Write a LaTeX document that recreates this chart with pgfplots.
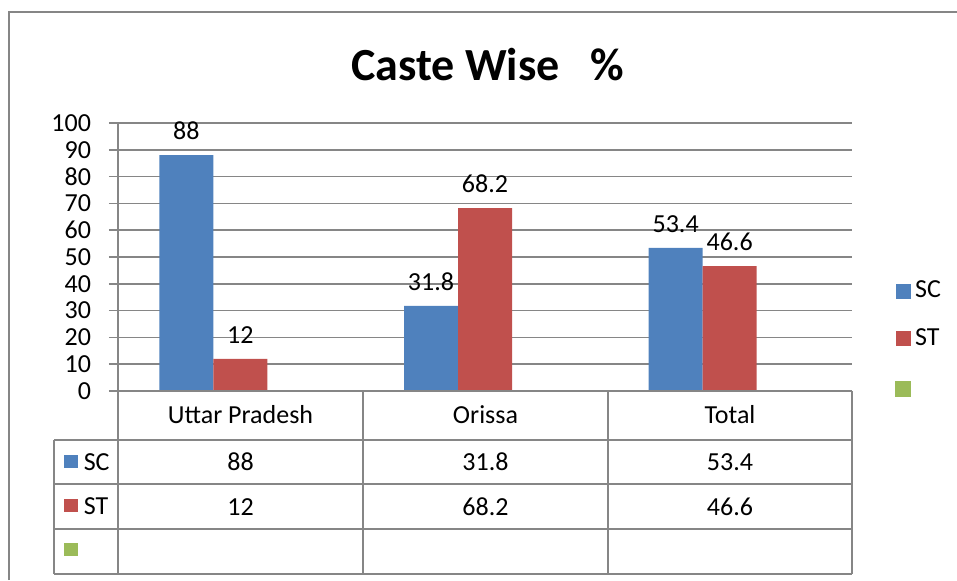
\documentclass[border=0pt]{standalone}
\usepackage{pgfplots}
\pgfplotsset{compat=1.18}
\usepackage{fontspec}
\setmainfont{Carlito}
\definecolor{scblue}{RGB}{79,129,189}
\definecolor{stred}{RGB}{192,80,77}
\definecolor{emptygreen}{RGB}{155,187,89}
\definecolor{linegray}{RGB}{134,134,134}

\begin{document}
\begin{tikzpicture}
% page = 957 x 580 px, 1 px = 0.5pt
\useasboundingbox (0,0) rectangle (478.5pt,290pt);
\begin{axis}[
    at={(59pt,94.5pt)}, anchor=south west,
    scale only axis, width=367pt, height=134pt,
    xmin=-0.5, xmax=2.5, ymin=0, ymax=100,
    ytick={0,10,...,100}, xtick=\empty,
    axis x line*=bottom, axis y line*=left,
    x axis line style={draw=none},
    y axis line style={-, draw=linegray, line width=0.8pt},
    ymajorgrids, grid style={linegray, line width=0.8pt},
    tick style={linegray, line width=0.8pt},
    major tick length=4.5pt, tick align=outside, ytick pos=left,
    tick label style={font=\fontsize{13}{15}\selectfont},
    yticklabel style={xshift=-5.5pt},
    /pgf/number format/assume math mode=true,
    ybar, bar width=27pt,
    nodes near coords,
    every node near coord/.append style={font=\fontsize{13}{15}\selectfont, black, yshift=4pt},
    legend style={at={(1.0586,0.1866)}, anchor=west, draw=none, inner sep=0pt,
        font=\fontsize{13}{15}\selectfont, row sep=10pt},
    legend cell align=left,
    clip=false,
]
\addplot[fill=scblue, draw=none, bar shift=-27pt,
    legend image code/.code={\fill[scblue] (0pt,-3.75pt) rectangle (7.5pt,3.75pt);}]
    coordinates {(0,88) (1,31.8) (2,53.4)};
\addplot[fill=stred, draw=none, bar shift=0pt,
    legend image code/.code={\fill[stred] (0pt,-3.75pt) rectangle (7.5pt,3.75pt);}]
    coordinates {(0,12) (1,68.2) (2,46.6)};
\addlegendimage{legend image code/.code={\fill[emptygreen] (0pt,-3.75pt) rectangle (7.5pt,3.75pt);}}
\legend{SC, ST, {\strut}}
\end{axis}

\begin{scope}[x=0.5pt, y=-0.5pt, yshift=290pt, line width=0.8pt]
% outer frame
\draw[linegray, line width=1pt] (9,580) -- (9,12) -- (957,12);
% title
\node[font=\fontsize{23}{27}\selectfont\bfseries] at (488,65) {Caste Wise\ \ \ \%};
% data table
\draw[linegray] (118,391) -- (852,391);
\foreach \yy in {440,484,529,574} \draw[linegray] (54,\yy) -- (852,\yy);
\foreach \xx in {118,363,608,852} \draw[linegray] (\xx,391) -- (\xx,574);
\draw[linegray] (54,440) -- (54,574);
\begin{scope}[every node/.style={font=\fontsize{13}{15}\selectfont}]
\node at (240.5,415) {Uttar Pradesh};
\node at (485.5,415) {Orissa};
\node at (730,415) {Total};
\node at (240.5,462) {88};
\node at (485.5,462) {31.8};
\node at (730,462) {53.4};
\node at (240.5,507) {12};
\node at (485.5,507) {68.2};
\node at (730,507) {46.6};
\fill[scblue] (64,455) rectangle (78,468);
\node[anchor=west, inner sep=0pt] at (83,462) {SC};
\fill[stred] (64,499) rectangle (78,512);
\node[anchor=west, inner sep=0pt] at (83,506) {ST};
\fill[emptygreen] (64,543) rectangle (78,556);
\end{scope}
\end{scope}
\end{tikzpicture}
\end{document}
